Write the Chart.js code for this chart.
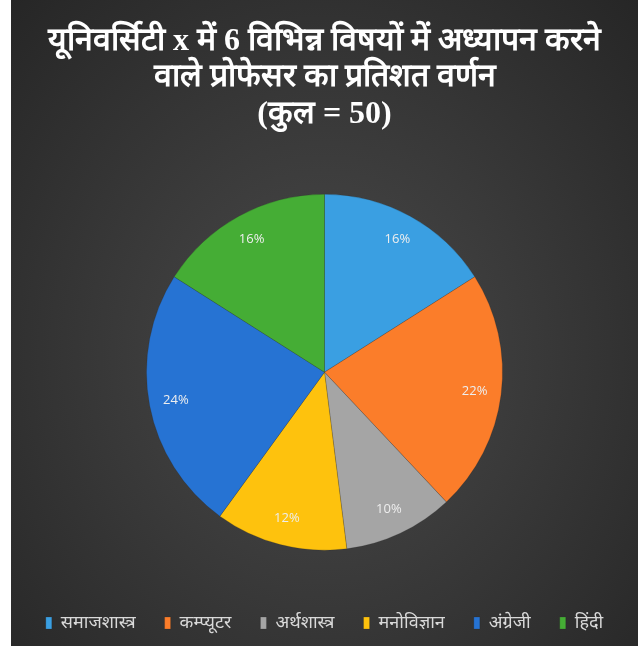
<!DOCTYPE html>
<html lang="hi">
<head>
  <meta charset="UTF-8">
  <title>प्रोफेसर का प्रतिशत वर्णन</title>
  <script src="https://cdn.jsdelivr.net/npm/chart.js"></script>
  <style>
    body { margin: 0; background: #fff; }
    .card {
      position: absolute; left: 11px; top: 0;
      width: 627px; height: 646px;
      background: radial-gradient(ellipse at 50% 55%, #4a4a4a 0%, #3a3a3a 45%, #262626 100%);
    }
  </style>
</head>
<body>
  <div class="card">
    <canvas id="pieChart" width="627" height="646"></canvas>
  </div>

  <script>
    // विषय और प्रतिशत
    const subjects = ["समाजशास्त्र", "कम्प्यूटर", "अर्थशास्त्र", "मनोविज्ञान", "अंग्रेजी", "हिंदी"];
    const percents = [16, 22, 10, 12, 24, 16];
    const sliceColors = ["#3a9fe2", "#fb7d2a", "#a5a5a5", "#fec20d", "#2673d3", "#45ad35"];
    const titleLines = [
      "यूनिवर्सिटी x में 6 विभिन्न विषयों में अध्यापन करने",
      "वाले प्रोफेसर का प्रतिशत वर्णन",
      "(कुल = 50)"
    ];

    // slice labels drawn inside, near the rim
    const sliceLabels = {
      id: "sliceLabels",
      afterDatasetsDraw(chart) {
        const ctx = chart.ctx;
        const meta = chart.getDatasetMeta(0);
        ctx.save();
        ctx.fillStyle = "#eeeeee";
        ctx.font = "13px 'Open Sans', sans-serif";
        ctx.textAlign = "center";
        ctx.textBaseline = "middle";
        meta.data.forEach((arc, i) => {
          const p = arc.getProps(["x", "y", "startAngle", "endAngle", "outerRadius"], true);
          const mid = (p.startAngle + p.endAngle) / 2;
          const r = p.outerRadius * 0.85;
          ctx.fillText(percents[i] + "%", p.x + Math.cos(mid) * r, p.y + Math.sin(mid) * r);
        });
        ctx.restore();
      }
    };

    new Chart(document.getElementById("pieChart"), {
      type: "pie",
      data: {
        labels: subjects,
        datasets: [{
          data: percents,
          backgroundColor: sliceColors,
          borderColor: "rgba(40,40,40,0.35)",
          borderWidth: 0.6,
          radius: 178
        }]
      },
      options: {
        responsive: false,
        animation: false,
        layout: { padding: { top: 0, bottom: 4 } },
        plugins: {
          title: {
            display: true,
            text: titleLines,
            color: "#ffffff",
            font: { family: "'Liberation Serif', 'DejaVu Serif', serif", size: 32, weight: "bold", lineHeight: 1.15 },
            padding: { top: 23, bottom: 26 }
          },
          legend: {
            position: "bottom",
            labels: {
              color: "#d9d9d9",
              font: { family: "'Noto Sans', sans-serif", size: 18 },
              boxWidth: 6,
              boxHeight: 12,
              padding: 29
            }
          },
          tooltip: { enabled: false }
        }
      },
      plugins: [sliceLabels]
    });
  </script>
</body>
</html>
